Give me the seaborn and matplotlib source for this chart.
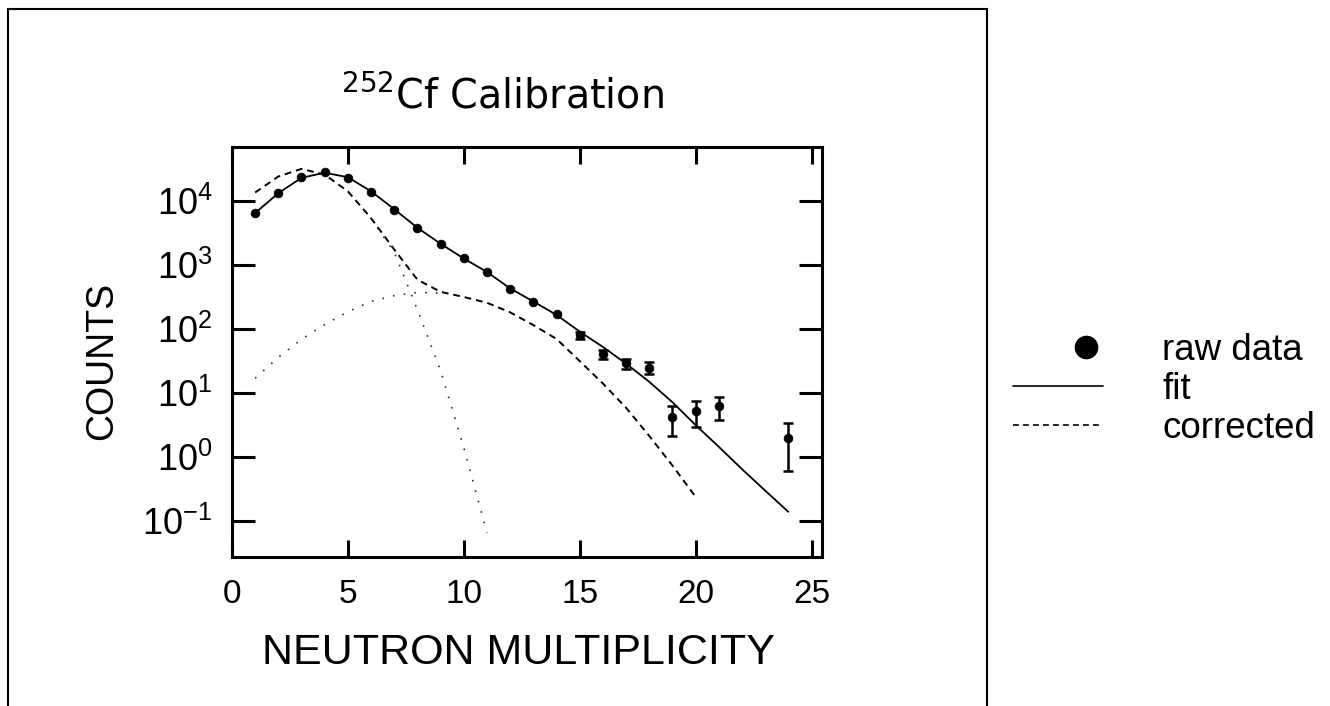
import numpy as np
import pandas as pd
import matplotlib
matplotlib.use('Agg')
import matplotlib.pyplot as plt
import seaborn as sns
from matplotlib import font_manager
from matplotlib.lines import Line2D
from matplotlib.legend_handler import HandlerLine2D
from matplotlib.ticker import NullLocator

# raw data (counts vs multiplicity)
mult = [1, 2, 3, 4, 5, 6, 7, 8, 9, 10, 11, 12, 13, 14, 15, 16, 17, 18, 19, 20, 21, 24]
counts = [6400, 13200, 24000, 28000, 22600, 13700, 7200, 3740, 2130, 1270, 770,
          420, 260, 170, 80, 40, 29, 25, 4.2, 5.2, 6.3, 2.0]
count_err = [0, 0, 0, 0, 0, 0, 0, 0, 0, 0, 0,
             0, 0, 0, 9, 6.3, 5.4, 5.0, 2.1, 2.3, 2.5, 1.4]

# fit (solid)
fit_x = list(range(1, 25))
fit_y = [6460, 13180, 22900, 27500, 23400, 14100, 7410, 3800, 2140, 1260, 776, 430,
         269, 166, 91, 52.5, 28.8, 15.0, 7.2, 3.16, 1.45, 0.65, 0.30, 0.14]

# corrected (dashed)
corr_x = list(range(1, 21))
corr_y = [13500, 24000, 31600, 25700, 14100, 5370, 1740, 589, 380, 316, 257, 182,
          115, 70, 31.6, 14.1, 5.9, 2.14, 0.74, 0.24]

# the two components (dotted)
comp1_x = [6, 7, 8, 9, 10, 11]
comp1_y = [5250, 1580, 200, 22.4, 1.41, 0.066]
comp2_x = [1, 2, 3, 4, 5, 6, 7, 8, 9]
comp2_y = [17, 36, 69, 117, 186, 269, 331, 372, 363]

legend_labels = ['raw data', 'fit', 'corrected']


def pick(names):
    for n in names:
        try:
            font_manager.findfont(n, fallback_to_default=False)
            return n
        except ValueError:
            pass
    return 'DejaVu Sans'


class RightMarker(HandlerLine2D):
    # single marker sits at the midpoint of xdata, so shift xdata to the right
    def get_xdata(self, legend, xdescent, ydescent, width, height, fontsize):
        xd = np.array([-xdescent + 0.62 * width, -xdescent + width])
        return xd, xd


sns.set_style('ticks')
narrow = pick(['Liberation Sans Narrow', 'DejaVu Sans Condensed', 'Liberation Sans'])
plt.rcParams['font.family'] = [narrow, 'DejaVu Sans']
plt.rcParams['mathtext.fontset'] = 'custom'
plt.rcParams['mathtext.rm'] = narrow
plt.rcParams['mathtext.default'] = 'regular'
plt.rcParams['text.color'] = 'black'
plt.rcParams['axes.labelcolor'] = 'black'
plt.rcParams['xtick.color'] = 'black'
plt.rcParams['ytick.color'] = 'black'

df = pd.DataFrame({'mult': mult, 'counts': counts, 'err': count_err})

fig = plt.figure(figsize=(13.3, 7.06), dpi=100)
ax = fig.add_axes([0.1744, 0.211, 0.4436, 0.5807])
ax.set_yscale('log')

sns.lineplot(x=fit_x, y=fit_y, ax=ax, color='black', lw=1.3, label='_fit')
sns.lineplot(x=corr_x, y=corr_y, ax=ax, color='black', lw=1.4,
             linestyle=(0, (3.5, 2.5)), label='_corr')
sns.lineplot(x=comp1_x, y=comp1_y, ax=ax, color='#333333', lw=1.2,
             linestyle=(0, (1, 5.5)), label='_c1')
sns.lineplot(x=comp2_x, y=comp2_y, ax=ax, color='#333333', lw=1.2,
             linestyle=(0, (1, 5.5)), label='_c2')

sns.scatterplot(data=df, x='mult', y='counts', ax=ax, color='black', s=40,
                edgecolor='black', zorder=4, legend=False)
eb = df[df.err > 0]
ax.errorbar(eb.mult, eb.counts, yerr=eb.err, fmt='none', ecolor='black',
            elinewidth=1.8, capsize=3.5, capthick=1.8, zorder=4)

ax.set_xlim(0, 25.45)
ax.set_ylim(10 ** -1.56, 10 ** 4.84)
ax.set_xticks([0, 5, 10, 15, 20, 25])
ax.set_yticks([0.1, 1, 10, 100, 1000, 10000])
ax.yaxis.set_minor_locator(NullLocator())

for s in ax.spines.values():
    s.set_linewidth(2.2)
    s.set_color('black')
ax.tick_params(axis='both', which='both', direction='in', top=True, right=True,
               width=2.2, color='black', labelcolor='black')
ax.tick_params(axis='y', length=16.5, labelsize=26, pad=14)
ax.tick_params(axis='x', length=12, labelsize=24, pad=16)

ax.set_xlabel('NEUTRON MULTIPLICITY', fontsize=31)
ax.set_ylabel('COUNTS', fontsize=27)
ax.xaxis.set_label_coords(0.486, -0.185)
ax.yaxis.set_label_coords(-0.19, 0.478)

fig.text(0.378, 0.847, r'$^{252}$Cf Calibration', ha='center', va='baseline',
         fontsize=28.5, family=['DejaVu Sans'])

handles = [Line2D([], [], marker='o', ms=16, ls='none', color='black'),
           Line2D([], [], color='black', lw=1.2),
           Line2D([], [], color='black', lw=1.2, linestyle=(0, (3.5, 2.5)))]
fig.legend(handles, legend_labels, loc='upper left', bbox_to_anchor=(0.7617, 0.528),
           frameon=False, borderpad=0, borderaxespad=0, handlelength=2.45,
           handletextpad=1.6, labelspacing=0.1, fontsize=26.5,
           handler_map={handles[0]: RightMarker()})

fig.add_artist(plt.Rectangle((0.006, -0.05), 0.736, 1.037, transform=fig.transFigure,
                             fill=False, lw=1.5, edgecolor='black'))

fig.savefig('out.png', dpi=100, facecolor='white')
